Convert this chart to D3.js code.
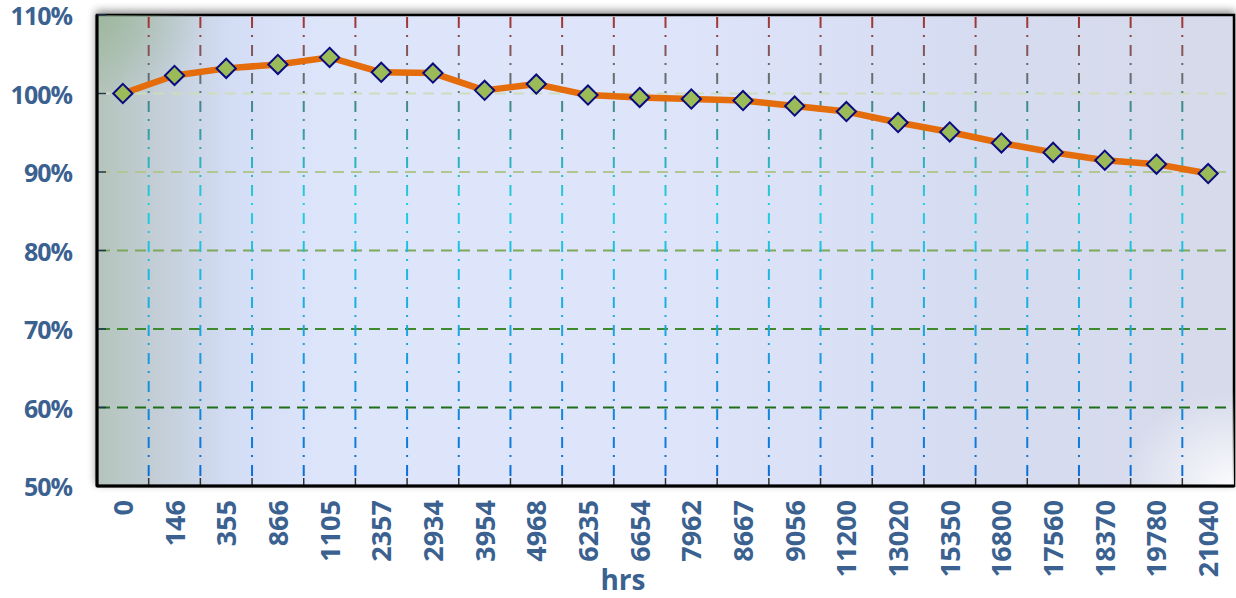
<!DOCTYPE html>
<html lang="en">
<head>
<meta charset="utf-8">
<title>hrs</title>
<script src="https://cdn.jsdelivr.net/npm/d3@7"></script>
<style>
  body { margin: 0; background: #fff; }
  text { font-family: "Open Sans", "Noto Sans", sans-serif; font-weight: bold; }
</style>
</head>
<body>
<script>
// data
var hours = ["0", "146", "355", "866", "1105", "2357", "2934", "3954", "4968", "6235", "6654",
             "7962", "8667", "9056", "11200", "13020", "15350", "16800", "17560", "18370", "19780", "21040"];
var retention = [100.0, 102.3, 103.2, 103.7, 104.6, 102.7, 102.6, 100.4, 101.2, 99.8, 99.5,
                 99.3, 99.1, 98.4, 97.7, 96.3, 95.1, 93.7, 92.5, 91.5, 91.0, 89.8];
var yTicks = [50, 60, 70, 80, 90, 100, 110];

var w = 1236, h = 598;
// plot box ("top" is taken by window.top, so prefix them)
var pLeft = 97, pRight = 1234, pTop = 15, pBottom = 486;

var svg = d3.select("body").append("svg")
    .attr("width", w)
    .attr("height", h);

var defs = svg.append("defs");

// background: grey-green strip on the left fading into pale blue
var bg = defs.append("linearGradient").attr("id", "bg")
    .attr("x1", "0").attr("y1", "0").attr("x2", "1").attr("y2", "0");
bg.append("stop").attr("offset", "0").attr("stop-color", "#b4c4bb");
bg.append("stop").attr("offset", "0.05").attr("stop-color", "#c2cdd5");
bg.append("stop").attr("offset", "0.12").attr("stop-color", "#d3ddf5");
bg.append("stop").attr("offset", "0.2").attr("stop-color", "#dde5fb");
bg.append("stop").attr("offset", "0.5").attr("stop-color", "#dee5fb");
bg.append("stop").attr("offset", "0.75").attr("stop-color", "#d6dcf1");
bg.append("stop").attr("offset", "1").attr("stop-color", "#d6daea");

// greener top-left corner
var tl = defs.append("radialGradient").attr("id", "tl")
    .attr("cx", "0").attr("cy", "0").attr("r", "0.1")
    .attr("gradientTransform", "scale(1,1.8)");
tl.append("stop").attr("offset", "0").attr("stop-color", "#8fae88").attr("stop-opacity", 0.6);
tl.append("stop").attr("offset", "1").attr("stop-color", "#8fae88").attr("stop-opacity", 0);

// whitish bottom-right corner
var glow = defs.append("radialGradient").attr("id", "glow")
    .attr("cx", "1").attr("cy", "1").attr("r", "0.1")
    .attr("gradientTransform", "translate(1,1) scale(1,2) translate(-1,-1)");
glow.append("stop").attr("offset", "0").attr("stop-color", "#ffffff").attr("stop-opacity", 0.9);
glow.append("stop").attr("offset", "1").attr("stop-color", "#ffffff").attr("stop-opacity", 0);

// vertical grid colour goes red -> teal -> cyan -> blue from top to bottom
var vg = defs.append("linearGradient").attr("id", "vgrid")
    .attr("gradientUnits", "userSpaceOnUse")
    .attr("x1", 0).attr("y1", pTop).attr("x2", 0).attr("y2", pBottom);
vg.append("stop").attr("offset", "0").attr("stop-color", "#a83030");
vg.append("stop").attr("offset", "0.1").attr("stop-color", "#7a6060");
vg.append("stop").attr("offset", "0.2").attr("stop-color", "#3d8d90");
vg.append("stop").attr("offset", "0.4").attr("stop-color", "#20d0e0");
vg.append("stop").attr("offset", "0.7").attr("stop-color", "#1aa0e0");
vg.append("stop").attr("offset", "1").attr("stop-color", "#0a6ad8");

var shadow = defs.append("filter").attr("id", "shadow")
    .attr("x", "-5%").attr("y", "-10%").attr("width", "110%").attr("height", "120%");
shadow.append("feGaussianBlur").attr("in", "SourceAlpha").attr("stdDeviation", 4);
shadow.append("feOffset").attr("dx", 0).attr("dy", -3).attr("result", "b");
shadow.append("feComponentTransfer").append("feFuncA").attr("type", "linear").attr("slope", 0.45);
var merge = shadow.append("feMerge");
merge.append("feMergeNode");
merge.append("feMergeNode").attr("in", "SourceGraphic");

// scales
var x = d3.scaleBand().domain(hours).range([pLeft, pRight]);
var y = d3.scaleLinear().domain([50, 110]).range([pBottom, pTop]);

// plot background
svg.append("rect")
    .attr("x", pLeft).attr("y", pTop)
    .attr("width", pRight - pLeft).attr("height", pBottom - pTop)
    .attr("fill", "url(#bg)")
    .attr("stroke", "#000").attr("stroke-width", 2.5)
    .attr("filter", "url(#shadow)");
svg.append("rect")
    .attr("x", pLeft).attr("y", pTop)
    .attr("width", pRight - pLeft).attr("height", pBottom - pTop)
    .attr("fill", "url(#tl)");
svg.append("rect")
    .attr("x", pLeft).attr("y", pTop)
    .attr("width", pRight - pLeft).attr("height", pBottom - pTop)
    .attr("fill", "url(#glow)");

// horizontal grid lines, each a different green
var hColor = d3.scaleOrdinal()
    .domain([60, 70, 80, 90, 100])
    .range(["#1f6e1a", "#3f8a2c", "#7ea85a", "#b2c692", "#cfdcbb"]);

svg.selectAll(".hgrid")
    .data(yTicks.filter(function(d) { return d > 50 && d < 110; }))
    .enter()
    .append("line")
    .attr("class", "hgrid")
    .attr("x1", pLeft + 2).attr("x2", pRight - 2)
    .attr("y1", function(d) { return y(d); })
    .attr("y2", function(d) { return y(d); })
    .attr("stroke", function(d) { return hColor(d); })
    .attr("stroke-width", 2)
    .attr("stroke-dasharray", "11,7");

// vertical grid lines at band edges (dash-dot)
var edges = hours.slice(1);
svg.selectAll(".vgrid")
    .data(edges)
    .enter()
    .append("line")
    .attr("class", "vgrid")
    .attr("x1", function(d) { return x(d); })
    .attr("x2", function(d) { return x(d); })
    .attr("y1", pTop + 2).attr("y2", pBottom - 6)
    .attr("stroke", "url(#vgrid)")
    .attr("stroke-width", 2)
    .attr("stroke-dasharray", "11,7,2,8");

// inside ticks
svg.selectAll(".xtick")
    .data(edges)
    .enter()
    .append("line")
    .attr("x1", function(d) { return x(d); })
    .attr("x2", function(d) { return x(d); })
    .attr("y1", pBottom).attr("y2", pBottom - 8)
    .attr("stroke", "#333").attr("stroke-width", 1.5);

svg.selectAll(".ytick")
    .data(yTicks)
    .enter()
    .append("line")
    .attr("x1", pLeft).attr("x2", pLeft + 9)
    .attr("y1", function(d) { return y(d); })
    .attr("y2", function(d) { return y(d); })
    .attr("stroke", "#1f3550").attr("stroke-width", 1.5);

// axes lines
svg.append("line")
    .attr("x1", pLeft).attr("x2", pLeft).attr("y1", pTop).attr("y2", pBottom)
    .attr("stroke", "#000").attr("stroke-width", 3);
svg.append("line")
    .attr("x1", pLeft).attr("x2", pRight).attr("y1", pBottom).attr("y2", pBottom)
    .attr("stroke", "#000").attr("stroke-width", 3);

// y labels
svg.selectAll(".ylab")
    .data(yTicks)
    .enter()
    .append("text")
    .attr("class", "ylab")
    .text(function(d) { return d + "%"; })
    .attr("x", 72)
    .attr("y", function(d) { return y(d) + 10; })
    .attr("text-anchor", "end")
    .attr("font-size", 25)
    .attr("letter-spacing", -1)
    .attr("fill", "#3a6190");

// x labels, rotated
svg.selectAll(".xlab")
    .data(hours)
    .enter()
    .append("text")
    .attr("class", "xlab")
    .text(function(d) { return d; })
    .attr("transform", function(d) {
        return "translate(" + (x(d) + x.bandwidth() / 2 + 10) + "," + 500 + ") rotate(-90)";
    })
    .attr("text-anchor", "end")
    .attr("font-size", 27)
    .attr("fill", "#3a6190");

svg.append("text")
    .text("hrs")
    .attr("x", 623).attr("y", 590)
    .attr("text-anchor", "middle")
    .attr("font-size", 28)
    .attr("fill", "#3a6190");

// line + markers
var line = d3.line()
    .x(function(d, i) { return x(hours[i]) + x.bandwidth() / 2; })
    .y(function(d) { return y(d); });

svg.append("path")
    .datum(retention)
    .attr("d", line)
    .attr("fill", "none")
    .attr("stroke", "#e46c0a")
    .attr("stroke-width", 6.5)
    .attr("stroke-linejoin", "round");

var diamond = d3.symbol().type(d3.symbolDiamond2).size(235);
svg.selectAll(".pt")
    .data(retention)
    .enter()
    .append("path")
    .attr("class", "pt")
    .attr("d", diamond)
    .attr("transform", function(d, i) {
        return "translate(" + (x(hours[i]) + x.bandwidth() / 2) + "," + y(d) + ")";
    })
    .attr("fill", "#9bbb59")
    .attr("stroke", "#0a0a80")
    .attr("stroke-width", 2);
</script>
</body>
</html>
